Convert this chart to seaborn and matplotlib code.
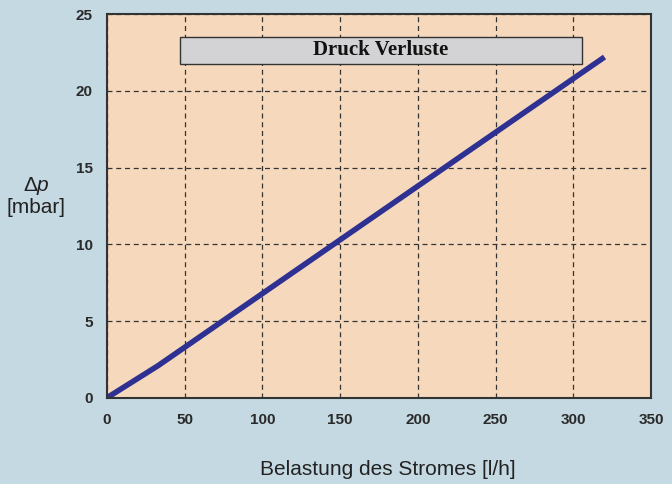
import numpy as np
import matplotlib
matplotlib.use('Agg')
import matplotlib.pyplot as plt
import seaborn as sns
from matplotlib.patches import Rectangle

# Belastung des Stromes [l/h] vs. Druckverlust [mbar]
flow = [0, 33, 320]
dp = [0, 2.1, 22.2]
x_ticks = [0, 50, 100, 150, 200, 250, 300, 350]
y_ticks = [0, 5, 10, 15, 20, 25]

sns.set_style('white')
plt.rcParams['font.family'] = ['Liberation Sans', 'DejaVu Sans']
plt.rcParams['mathtext.fontset'] = 'custom'
plt.rcParams['mathtext.it'] = 'Liberation Sans:italic'
plt.rcParams['mathtext.rm'] = 'Liberation Sans'

fig = plt.figure(figsize=(6.72, 4.84), dpi=100, facecolor='#c5d9e2')
ax = fig.add_axes([0.159, 0.178, 0.81, 0.793])
ax.set_facecolor('#f6d9bd')

sns.lineplot(x=flow, y=dp, ax=ax, color='#2e3192', linewidth=4, solid_capstyle='butt')

ax.set_xlim(0, 350)
ax.set_ylim(0, 25)
ax.set_xticks(x_ticks)
ax.set_yticks(y_ticks)
ax.grid(True, linestyle=(0, (4, 3)), color='#333333', linewidth=0.9)
ax.set_axisbelow(True)
ax.tick_params(axis='x', length=0, pad=11, labelsize=11, labelcolor='#2a2a2a')
ax.tick_params(axis='y', length=0, pad=10, labelsize=11, labelcolor='#2a2a2a')
for lab in ax.get_xticklabels() + ax.get_yticklabels():
    lab.set_fontweight('bold')
for sp in ax.spines.values():
    sp.set_color('#333333')
    sp.set_linewidth(1.5)

ax.set_xlabel('Belastung des Stromes [l/h]', fontsize=15, color='#222222')
ax.xaxis.set_label_coords(0.516, -0.162)
ax.set_ylabel('Δ$p$\n[mbar]', fontsize=15, rotation=0, color='#222222',
              va='center', ha='center', linespacing=1.1)
ax.yaxis.set_label_coords(-0.13, 0.526)

ax.add_patch(Rectangle((0.134, 0.870), 0.739, 0.070, transform=ax.transAxes,
                       facecolor='#d3d3d5', edgecolor='#333333', linewidth=1.0, zorder=3))
ax.text(0.503, 0.905, 'Druck Verluste', transform=ax.transAxes, ha='center', va='center',
        fontsize=15, fontweight='bold', family='Liberation Serif', color='#111111', zorder=4)

fig.savefig('out.png', dpi=100, facecolor=fig.get_facecolor())
